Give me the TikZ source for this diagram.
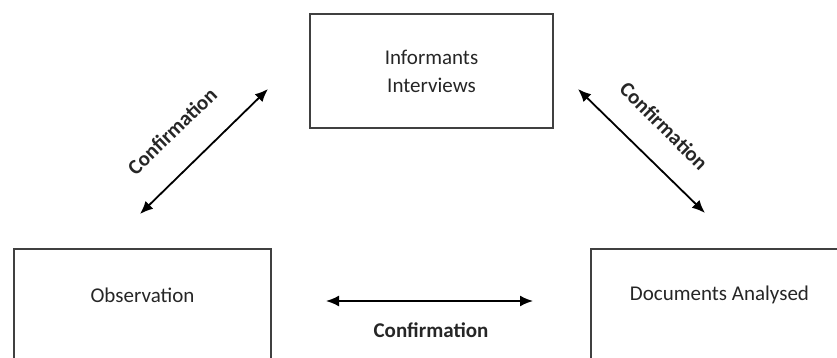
\documentclass[tikz,border=0pt]{standalone}
\usepackage{fontspec}
\setmainfont{Carlito}
\usetikzlibrary{arrows.meta}

\begin{document}
\begin{tikzpicture}[x=1pt, y=-1pt]
		\tikzstyle {box} = [draw=black!75, line width=2pt, rectangle, anchor=north west]
		\tikzstyle {both way} = [line width=1.8pt, {Latex[length=13pt,width=11pt]}-{Latex[length=13pt,width=11pt]}]
		\tikzstyle {boxtext} = [font=\fontsize{21}{28}\selectfont, align=center, text=black!85]
		\tikzstyle {conf} = [font=\fontsize{21}{24}\selectfont\bfseries, text=black!85]

		\useasboundingbox (0,0) rectangle (837,358);

		% the three sources
		\node[box, minimum width=243pt, minimum height=114pt] (informants) at (309,13) {};
		\node[boxtext] (informantstext) at (informants.center) {Informants\\Interviews};

		\node[box, minimum width=257pt, minimum height=140pt] (observation) at (13,248) {};
		\node[boxtext] (observationtext) at ([yshift=-47pt]observation.north) {Observation};

		\node[box, minimum width=257pt, minimum height=140pt] (documents) at (590,248) {};
		\node[boxtext] (documentstext) at ([yshift=-47pt]documents.north) {Documents Analysed};

		% arrow ends
		\coordinate (left top) at (268,89);
		\coordinate (left bottom) at (140,214);
		\coordinate (right top) at (578,89);
		\coordinate (right bottom) at (705,213);
		\coordinate (mid left) at (326,301);
		\coordinate (mid right) at (533,301);

		\draw[both way] (left bottom) -- (left top);
		\draw[both way] (right top) -- (right bottom);
		\draw[both way] (mid left) -- (mid right);

		\node[conf, rotate=44] (confleft) at (172,131) {Confirmation};
		\node[conf, rotate=-45] (confright) at (664,126) {Confirmation};
		\node[conf] (confmid) at (431,330) {Confirmation};
\end{tikzpicture}
\end{document}
